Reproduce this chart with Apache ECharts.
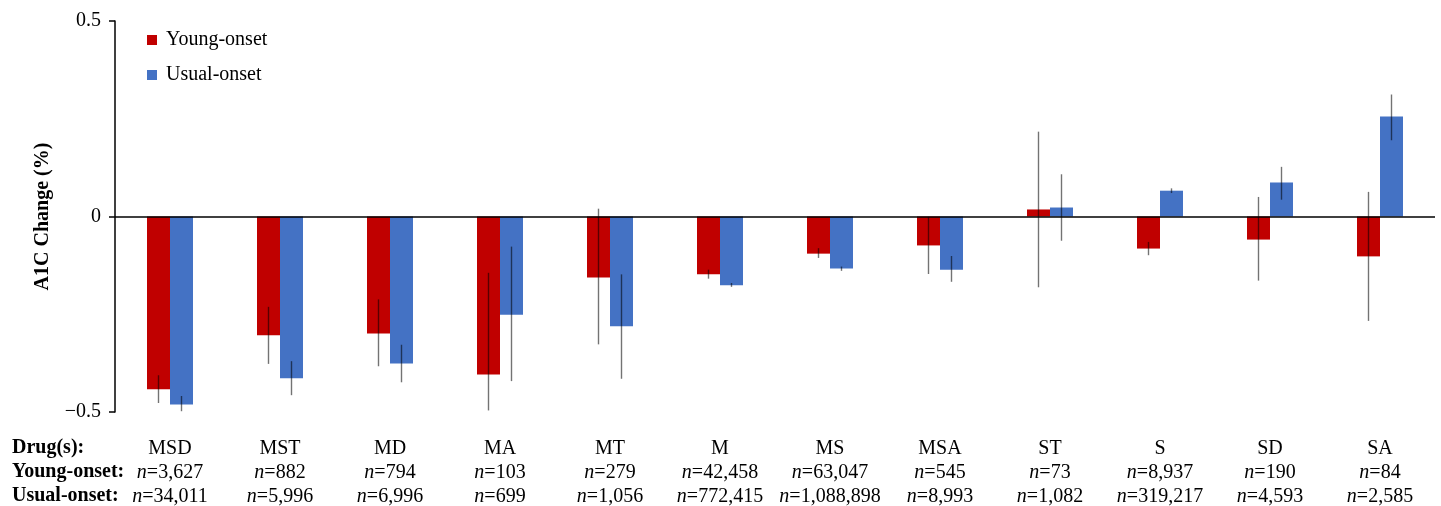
<!DOCTYPE html>
<html>
<head>
<meta charset="utf-8">
<script src="https://cdn.jsdelivr.net/npm/echarts@6/dist/echarts.min.js"></script>
<style>
html,body{margin:0;padding:0;background:#fff;}
#chart{width:1441px;height:506px;}
</style>
</head>
<body>
<div id="chart"></div>
<script>
const categories = ['MSD','MST','MD','MA','MT','M','MS','MSA','ST','S','SD','SA'];
const youngN = ['3,627','882','794','103','279','42,458','63,047','545','73','8,937','190','84'];
const usualN = ['34,011','5,996','6,996','699','1,056','772,415','1,088,898','8,993','1,082','319,217','4,593','2,585'];
const youngValues = [-0.442,-0.304,-0.299,-0.404,-0.156,-0.148,-0.095,-0.074,0.018,-0.082,-0.059,-0.102];
const usualValues = [-0.481,-0.414,-0.376,-0.251,-0.281,-0.176,-0.133,-0.136,0.023,0.066,0.087,0.256];
const youngLow  = [-0.477,-0.377,-0.383,-0.496,-0.327,-0.159,-0.106,-0.147,-0.181,-0.099,-0.164,-0.267];
const youngHigh = [-0.406,-0.231,-0.212,-0.144,0.020,-0.136,-0.081,-0.001,0.217,-0.065,0.050,0.063];
const usualLow  = [-0.498,-0.457,-0.424,-0.421,-0.415,-0.180,-0.139,-0.167,-0.062,0.060,0.043,0.195];
const usualHigh = [-0.459,-0.370,-0.328,-0.077,-0.148,-0.170,-0.128,-0.101,0.108,0.072,0.127,0.312];
const yTicks = [-0.5, 0, 0.5];
const rowLabels = ['Drug(s):', 'Young-onset:', 'Usual-onset:'];

const FONT = '"Liberation Serif", "DejaVu Serif", serif';
const FS = 20;
const chart = echarts.init(document.getElementById('chart'));

function errData(lo, hi){ return categories.map((c,i)=>[i, lo[i], hi[i]]); }
function errSeries(name, lo, hi, offset){
  return {
    type:'custom', name:name, silent:true, z:5,
    data: errData(lo, hi),
    encode:{x:0, y:[1,2]},
    renderItem: function(params, api){
      const x = api.coord([api.value(0), 0])[0] + offset;
      const y1 = api.coord([api.value(0), api.value(1)])[1];
      const y2 = api.coord([api.value(0), api.value(2)])[1];
      return {type:'line', shape:{x1:x, y1:y1, x2:x, y2:y2},
        style:{stroke:'rgba(0,0,0,0.55)', lineWidth:1.4}};
    }
  };
}

const option = {
  backgroundColor:'#fff',
  animation:false,
  textStyle:{fontFamily:FONT},
  grid:{left:115, right:6, top:21, bottom:94, containLabel:false, outerBoundsMode:'none'},
  legend:{
    orient:'vertical', left:142, top:25,
    itemWidth:10, itemHeight:10, itemGap:15,
    icon:'rect',
    data:['Young-onset','Usual-onset'],
    textStyle:{fontFamily:FONT, fontSize:FS, color:'#000', lineHeight:20, padding:[0,0,0,4]}
  },
  xAxis:{
    type:'category', data:categories, position:'bottom',
    axisLine:{show:false}, axisTick:{show:false}, splitLine:{show:false},
    axisLabel:{
      interval:0, margin:25, color:'#000',
      formatter:function(v, i){
        return '{c|' + v + '}\n{i|n}{v|=' + youngN[i] + '}\n{i|n}{v|=' + usualN[i] + '}';
      },
      rich:{
        c:{fontFamily:FONT, fontSize:FS, lineHeight:24, color:'#000'},
        i:{fontFamily:FONT, fontSize:FS, lineHeight:24, fontStyle:'italic', color:'#000'},
        v:{fontFamily:FONT, fontSize:FS, lineHeight:24, color:'#000'}
      }
    }
  },
  yAxis:{
    type:'value', min:-0.5, max:0.5, interval:0.5,
    name:'A1C Change (%)', nameLocation:'middle', nameGap:62,
    nameTextStyle:{fontFamily:FONT, fontSize:FS, fontWeight:'bold', color:'#000'},
    axisLine:{show:true, lineStyle:{color:'#000', width:1.5}},
    axisTick:{show:true, length:6, lineStyle:{color:'#000', width:1.5}},
    splitLine:{show:false},
    axisLabel:{
      margin:14, color:'#000', fontFamily:FONT, fontSize:FS,
      formatter:function(v){
        if (yTicks.indexOf(v) < 0) return '';
        if (v < 0) return '\u2212' + Math.abs(v);
        return String(v);
      }
    }
  },
  series:[
    {
      name:'Young-onset', type:'bar', data:youngValues, barWidth:23, barGap:'0%',
      itemStyle:{color:'#C00000'},
      markLine:{
        silent:true, symbol:['none','none'], label:{show:false},
        lineStyle:{color:'#000', width:1.6, type:'solid'},
        data:[{yAxis:0}]
      }
    },
    {
      name:'Usual-onset', type:'bar', data:usualValues, barWidth:23, barGap:'0%',
      itemStyle:{color:'#4472C4'}
    },
    errSeries('youngErr', youngLow, youngHigh, -11.5),
    errSeries('usualErr', usualLow, usualHigh, 11.5)
  ],
  graphic: rowLabels.map((t, k) => ({
    type:'text', left:12, top:438 + k*24,
    style:{text:t, font:'bold ' + FS + 'px ' + FONT, fill:'#000'}
  }))
};
chart.setOption(option);
</script>
</body>
</html>
